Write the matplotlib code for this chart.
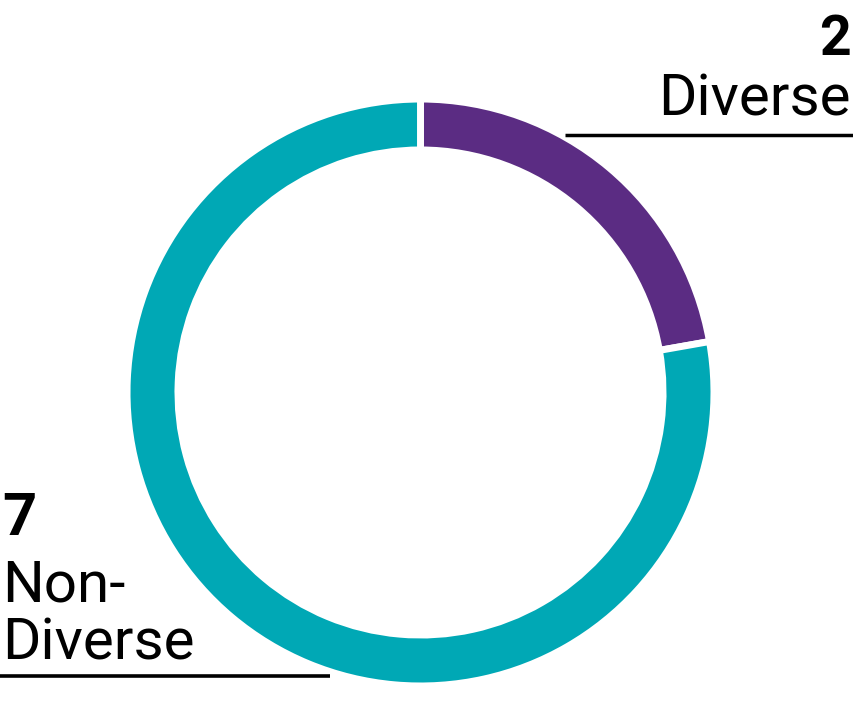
import matplotlib
matplotlib.use("Agg")
import matplotlib.pyplot as plt

categories = ["Diverse", "Non-Diverse"]
values = [2, 7]
colors = ["#5b2c83", "#00a8b5"]
label_texts = ["Diverse", "Non-\nDiverse"]

W, H = 854, 705
fig = plt.figure(figsize=(W / 100, H / 100), dpi=100)
ax = fig.add_axes([0, 0, 1, 1])
ax.set_xlim(0, W)
ax.set_ylim(0, H)
ax.set_aspect("equal")
ax.axis("off")

lw_pt = 5
lw_px = lw_pt * 100 / 72
cx, cy = 420.5, H - 392.5
R = 290 + lw_px / 2
ring = 44 + lw_px
ax.pie(values, colors=colors, startangle=90, counterclock=False,
       center=(cx, cy), radius=R, frame=True,
       wedgeprops=dict(width=ring, edgecolor="white", linewidth=lw_pt))
ax.set_xlim(0, W)
ax.set_ylim(0, H)
ax.axis("off")

font = "Roboto"
# Top right label
ax.text(851, H - 55, str(values[0]), ha="right", va="baseline",
        fontsize=40, fontweight="bold", family=font)
ax.text(851, H - 116, label_texts[0], ha="right", va="baseline",
        fontsize=42, family=font)
ax.plot([565, 854], [H - 134.5, H - 134.5], color="black", lw=2.5,
        solid_capstyle="butt")

# Bottom left label
ax.text(2, H - 535, str(values[1]), ha="left", va="baseline",
        fontsize=43, fontweight="bold", family=font)
ax.text(2, H - 660, label_texts[1], ha="left", va="baseline",
        fontsize=42, family=font, linespacing=1.07)
ax.plot([0, 330], [H - 676, H - 676], color="black", lw=2.6,
        solid_capstyle="butt")

fig.savefig("out.png", dpi=100)
